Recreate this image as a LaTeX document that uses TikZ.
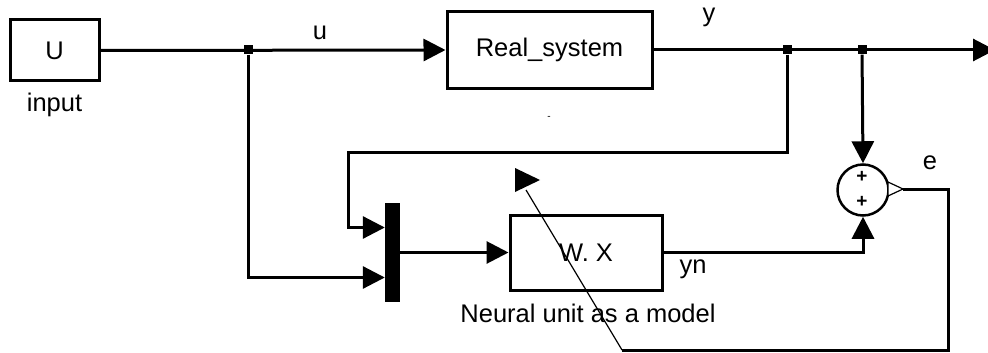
\documentclass[tikz,border=0pt]{standalone}
\usepackage{fontspec}
\setmainfont{Liberation Sans}
\usetikzlibrary{positioning, arrows.meta}
\tikzset{blk/.style={draw, line width=3pt, inner sep=0pt},
         sig/.style={line width=3pt, -{Triangle[length=22pt, width=22pt]}},
         wire/.style={line width=3pt},
         dot/.style={fill, minimum size=9pt, inner sep=0pt},
         lbl/.style={font=\fontsize{25.5}{29}\selectfont},
         plus/.style={font=\fontsize{19}{20}\selectfont\bfseries}}

\begin{document}
\begin{tikzpicture}[x=1pt, y=-1pt, lbl]
    \useasboundingbox (0,0) rectangle (988,353);

    % Blocks
    \node[blk, minimum width=89pt, minimum height=61pt] (ublk) at (54.5,50.5) {U};
    \node[below=7pt of ublk] (inlbl) {input};
    \node[blk, minimum width=205pt, minimum height=76pt] (real) at (549.5,50) {Real\_system};
    \node[font=\fontsize{10}{12}\selectfont] (dash) at (549,118) {-};
    \node[fill, minimum width=15pt, minimum height=99pt, inner sep=0pt] (mux) at (392.5,252.5) {};
    \node[blk, minimum width=152pt, minimum height=75pt] (model) at (586,252.5) {W. X};
    \node (modlbl) at (588,313) {Neural unit as a model};
    \node[draw, circle, line width=2.5pt, minimum size=51pt, inner sep=0pt] (sum) at (863,190) {};
    \node[plus] (p1) at (862,177) {+};
    \node[plus] (p2) at (862,202) {+};

    % Branch points
    \node[dot] (b1) at (248,50) {};
    \node[dot] (b2) at (787,50) {};
    \node[dot] (b3) at (862,50) {};
    \coordinate (yend) at (995,50);
    \coordinate (fbk) at (348,152);
    \coordinate (eout) at (903,189);
    \coordinate (eturn) at (948,350);
    \coordinate (ecorner) at (622,350);
    \coordinate (adapt) at (526,190);

    % Signals
    \draw[sig] (ublk.east) -- (real.west);
    \draw[sig] (real.east) -- (yend);
    \draw[sig] (b1) |- ([yshift=-25pt]mux.west);
    \draw[sig] (b2) |- (fbk) |- ([yshift=25pt]mux.west);
    \draw[sig] (mux.east) -- (model.west);
    \draw[sig] (b3) -- (sum.north);
    \draw[sig] (model.east) -| (sum.south);

    % Error output
    \draw[fill=white, line width=1.2pt] (888,182) -- (eout) -- (888,196) -- cycle;
    \draw[wire] (eout) -| (eturn) -- (ecorner);
    \draw[line width=1.2pt] (ecorner) -- (adapt);
    \fill (515,168) -- (540,180) -- (515,192) -- cycle;

    % Labels
    \node (ulbl) at (320,33) {u};
    \node (ylbl) at (709,17) {y};
    \node (elbl) at (930,163) {e};
    \node (ynlbl) at (693,269) {yn};
\end{tikzpicture}
\end{document}
